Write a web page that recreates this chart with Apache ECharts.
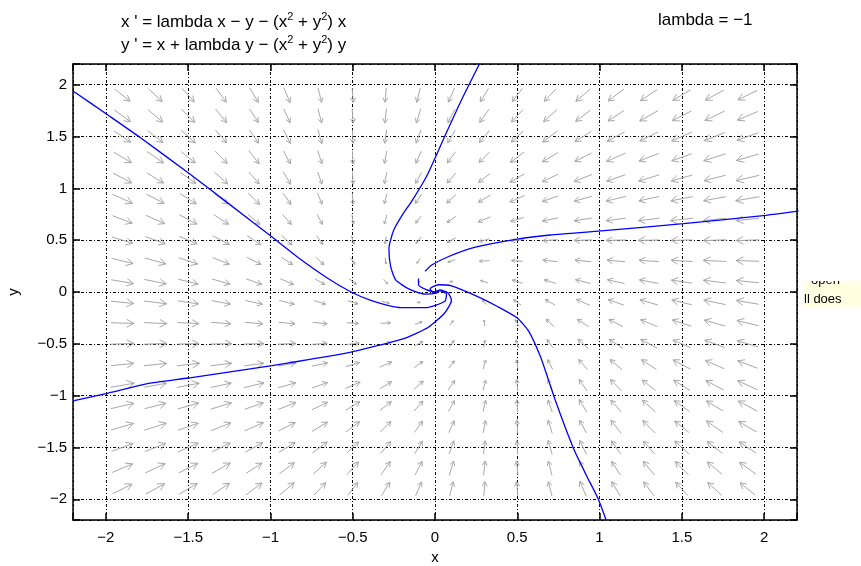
<!DOCTYPE html>
<html>
<head>
<meta charset="utf-8">
<script src="https://cdn.jsdelivr.net/npm/echarts@6/dist/echarts.min.js"></script>
<style>
  html, body { margin: 0; padding: 0; background: #fff; }
  #main { width: 861px; height: 566px; }
</style>
</head>
<body>
<div id="main"></div>
<script>
// axis ticks
var xTicks = [-2, -1.5, -1, -0.5, 0, 0.5, 1, 1.5, 2];
var xTickLabels = ['\u22122', '\u22121.5', '\u22121', '\u22120.5', '0', '0.5', '1', '1.5', '2'];
var yTicks = [-2, -1.5, -1, -0.5, 0, 0.5, 1, 1.5, 2];
var yTickLabels = ['\u22122', '\u22121.5', '\u22121', '\u22120.5', '0', '0.5', '1', '1.5', '2'];

// direction field: arrow centres, angle (deg) and relative length, read row by row (top row first)
var fieldX = [-1.9, -1.7, -1.5, -1.3, -1.1, -0.9, -0.7, -0.5, -0.3, -0.1, 0.1, 0.3, 0.5, 0.7, 0.9, 1.1, 1.3, 1.5, 1.7, 1.9];
var fieldY = [1.9, 1.7, 1.5, 1.3, 1.1, 0.9, 0.7, 0.5, 0.3, 0.1, -0.1, -0.3, -0.5, -0.7, -0.9, -1.1, -1.3, -1.5, -1.7, -1.9];
var arrowAngle = [
  [-52,-56,-60,-65,-70,-75,-81,-87,-93,-99,-105,-111,-116,-121,-126,-130,-133,-137,-139,-142],
  [-49,-53,-58,-63,-68,-74,-81,-87,-94,-101,-108,-114,-120,-125,-130,-134,-138,-141,-143,-146],
  [-47,-51,-55,-61,-66,-73,-80,-88,-95,-103,-111,-118,-124,-130,-135,-139,-142,-145,-148,-150],
  [-43,-48,-52,-58,-64,-71,-79,-88,-97,-106,-115,-123,-130,-136,-141,-145,-148,-151,-153,-155],
  [-40,-44,-49,-55,-61,-69,-78,-88,-98,-109,-119,-129,-137,-143,-148,-151,-154,-156,-158,-160],
  [-36,-40,-45,-51,-58,-66,-76,-87,-99,-113,-125,-136,-145,-151,-156,-159,-161,-163,-164,-165],
  [-31,-35,-40,-46,-53,-61,-72,-84,-99,-116,-132,-146,-155,-162,-166,-168,-169,-170,-171,-171],
  [-26,-30,-34,-40,-47,-55,-65,-79,-96,-117,-140,-158,-169,-174,-177,-178,-178,-178,-177,-177],
  [-21,-24,-28,-33,-39,-46,-56,-68,-85,-114,-151,-175,174,171,171,172,173,175,176,177],
  [-15,-18,-21,-25,-29,-35,-42,-50,-61,-89,-179,156,153,154,158,161,164,167,169,171],
  [-9,-11,-13,-16,-19,-22,-26,-27,-24,1,91,119,130,138,145,151,155,159,162,165],
  [-3,-4,-5,-7,-8,-9,-9,-6,5,29,66,95,112,124,134,141,147,152,156,159],
  [3,3,2,2,2,3,6,11,22,40,63,84,101,115,125,133,140,146,150,154],
  [9,9,10,11,12,14,18,25,34,48,64,81,96,108,119,127,134,140,145,149],
  [15,16,17,19,21,24,29,35,44,55,67,81,93,104,114,122,129,135,140,144],
  [20,22,24,26,29,32,37,43,51,61,71,82,92,102,111,119,125,131,136,140],
  [25,27,29,32,35,39,44,50,57,65,74,83,92,101,109,116,122,128,132,137],
  [30,32,35,38,41,45,50,56,62,69,77,85,92,100,107,114,119,125,129,133],
  [34,37,39,42,46,50,55,60,66,72,79,86,93,99,106,112,117,122,127,131],
  [38,41,43,47,50,54,59,64,69,75,81,87,93,99,105,110,115,120,124,128]
];
var arrowMag = [
  [15,15,15,15,15,15,14,14,14,14,14,14,14,14,15,15,15,15,15,15],
  [15,15,15,15,14,14,14,14,14,14,14,14,14,14,14,14,15,15,15,15],
  [15,15,15,14,14,14,14,13,13,13,13,13,13,14,14,14,14,15,15,15],
  [15,15,14,14,14,13,13,13,12,12,12,12,13,13,13,14,14,14,15,15],
  [15,14,14,14,13,13,12,12,11,11,11,11,12,12,13,13,14,14,14,15],
  [15,14,14,13,13,12,11,11,10,10,10,10,11,11,12,13,13,14,14,15],
  [14,14,14,13,12,11,10,9,9,8,8,9,9,10,11,12,13,14,14,14],
  [14,14,13,13,12,11,9,8,7,7,7,7,8,9,11,12,13,13,14,14],
  [14,14,13,12,11,10,9,7,6,5,5,6,7,9,10,11,12,13,14,14],
  [14,14,13,12,11,10,8,7,5,2,2,5,7,8,10,11,12,13,14,14],
  [14,14,13,12,11,10,8,7,5,2,2,5,7,8,10,11,12,13,14,14],
  [14,14,13,12,11,10,9,7,6,5,5,6,7,9,10,11,12,13,14,14],
  [14,14,13,13,12,11,9,8,7,7,7,7,8,9,11,12,13,13,14,14],
  [14,14,14,13,12,11,10,9,9,8,8,9,9,10,11,12,13,14,14,14],
  [15,14,14,13,13,12,11,11,10,10,10,10,11,11,12,13,13,14,14,15],
  [15,14,14,14,13,13,12,12,11,11,11,11,12,12,13,13,14,14,14,15],
  [15,15,14,14,14,13,13,13,12,12,12,12,13,13,13,14,14,14,15,15],
  [15,15,15,14,14,14,14,13,13,13,13,13,13,14,14,14,14,15,15,15],
  [15,15,15,15,14,14,14,14,14,14,14,14,14,14,14,14,15,15,15,15],
  [15,15,15,15,15,15,14,14,14,14,14,14,14,14,15,15,15,15,15,15]
];

// solution curves (x, y)
var traj1 = [[-2.2,1.94],[-1.99,1.71],[-1.8,1.5],[-1.5,1.15],[-1.26,0.86],[-0.99,0.53],[-0.83,0.33],[-0.65,0.13],[-0.51,0.0],[-0.39,-0.08],[-0.21,-0.15],[-0.05,-0.15],[0.06,-0.09],[0.07,-0.02],[0.03,0.01],[0.0,0.0]];
var traj2 = [[0.27,2.2],[0.16,1.85],[0.05,1.47],[-0.05,1.12],[-0.14,0.88],[-0.2,0.74],[-0.25,0.6],[-0.28,0.42],[-0.27,0.25],[-0.24,0.12],[-0.16,0.03],[-0.06,-0.02],[0.01,-0.01],[0.02,0.01]];
var traj3a = [[2.21,0.78],[2.01,0.74],[1.51,0.66],[1.01,0.59],[0.7,0.55],[0.5,0.51],[0.24,0.43],[0.08,0.34],[-0.02,0.26],[-0.06,0.2]];
var traj3b = [[-0.1,0.13],[-0.1,0.07],[-0.05,0.02],[0.0,0.0]];
var traj4 = [[1.04,-2.2],[0.99,-1.99],[0.92,-1.77],[0.85,-1.54],[0.79,-1.3],[0.73,-1.04],[0.69,-0.85],[0.64,-0.62],[0.57,-0.38],[0.5,-0.25],[0.38,-0.14],[0.24,-0.03],[0.1,0.06],[0.02,0.07],[-0.03,0.03],[-0.01,-0.01]];
var traj5 = [[-2.2,-1.05],[-2.0,-0.98],[-1.73,-0.88],[-1.5,-0.83],[-0.99,-0.71],[-0.51,-0.58],[-0.33,-0.51],[-0.19,-0.45],[-0.04,-0.34],[0.06,-0.2],[0.1,-0.08],[0.08,-0.01],[0.03,0.02],[0.0,0.0]];

var FONT = "'Liberation Sans', Arial, Helvetica, sans-serif";

var arrowData = [];
for (var r = 0; r < fieldY.length; r++) {
  for (var c = 0; c < fieldX.length; c++) {
    arrowData.push([fieldX[c], fieldY[r], arrowAngle[r][c], arrowMag[r][c]]);
  }
}

function tickFormatter(ticks, labels) {
  return function (v) {
    for (var i = 0; i < ticks.length; i++) {
      if (Math.abs(ticks[i] - v) < 1e-6) return labels[i];
    }
    return '';
  };
}

function renderArrow(params, api) {
  var x = api.value(0), y = api.value(1);
  var a = api.value(2) * Math.PI / 180;
  var len = api.value(3) / 100;
  var dx = Math.cos(a) * len / 2, dy = Math.sin(a) * len / 2;
  var p0 = api.coord([x - dx, y - dy]);
  var p1 = api.coord([x + dx, y + dy]);
  var ang = Math.atan2(p1[1] - p0[1], p1[0] - p0[0]);
  var L = Math.sqrt((p1[0] - p0[0]) * (p1[0] - p0[0]) + (p1[1] - p0[1]) * (p1[1] - p0[1]));
  var h = Math.max(2, L * 0.35);
  var b1 = [p1[0] - h * Math.cos(ang - 0.5), p1[1] - h * Math.sin(ang - 0.5)];
  var b2 = [p1[0] - h * Math.cos(ang + 0.5), p1[1] - h * Math.sin(ang + 0.5)];
  var st = { stroke: '#a8a8a8', lineWidth: 1, fill: null };
  return {
    type: 'group',
    children: [
      { type: 'polyline', shape: { points: [p0, p1] }, style: st },
      { type: 'polyline', shape: { points: [b1, p1, b2] }, style: st }
    ]
  };
}

function curve(data) {
  return {
    type: 'line',
    data: data,
    showSymbol: false,
    smooth: 0.2,
    clip: true,
    z: 5,
    lineStyle: { color: '#0000ff', width: 1.3 }
  };
}

var axisCommon = {
  type: 'value',
  min: -2.2,
  max: 2.2,
  minInterval: 0.5,
  maxInterval: 0.5,
  axisLine: { show: true, onZero: false, lineStyle: { color: '#000', width: 1.5 } },
  axisTick: { show: true, inside: true, length: 7, lineStyle: { color: '#000', width: 1.5 } }
};

var titleRich = {
  n: { fontSize: 17, fontFamily: FONT, fill: '#000', lineHeight: 22 },
  s: { fontSize: 11, fontFamily: FONT, fill: '#000', lineHeight: 11, verticalAlign: 'top' }
};

var myChart = echarts.init(document.getElementById('main'));
myChart.setOption({
  animation: false,
  backgroundColor: '#fff',
  grid: { left: 73, right: 64, top: 64, bottom: 46, outerBoundsMode: 'none', containLabel: false },
  xAxis: [
    Object.assign({}, axisCommon, {
      position: 'bottom',
      name: 'x',
      nameLocation: 'middle',
      nameGap: 30,
      nameTextStyle: { color: '#000', fontSize: 15, fontFamily: FONT },
      axisLabel: { formatter: tickFormatter(xTicks, xTickLabels), color: '#000', fontSize: 15, margin: 10, fontFamily: FONT },
      splitLine: { show: true, lineStyle: { color: '#000', width: 1, type: [3, 2, 1, 2] } }
    }),
    Object.assign({}, axisCommon, {
      position: 'top',
      axisLabel: { show: false },
      splitLine: { show: false }
    })
  ],
  yAxis: [
    Object.assign({}, axisCommon, {
      position: 'left',
      name: 'y',
      nameLocation: 'middle',
      nameGap: 52,
      nameTextStyle: { color: '#000', fontSize: 15, fontFamily: FONT },
      axisLabel: { formatter: tickFormatter(yTicks, yTickLabels), color: '#000', fontSize: 15, margin: 6, fontFamily: FONT },
      splitLine: { show: true, lineStyle: { color: '#000', width: 1, type: [3, 2, 1, 2] } }
    }),
    Object.assign({}, axisCommon, {
      position: 'right',
      axisLabel: { show: false },
      splitLine: { show: false }
    })
  ],
  graphic: [
    {
      type: 'text', left: 121, top: 11,
      style: { text: "{n|x ' = lambda x \u2212 y \u2212 (x}{s|2}{n| + y}{s|2}{n|) x}", rich: titleRich }
    },
    {
      type: 'text', left: 121, top: 34,
      style: { text: "{n|y ' = x + lambda y \u2212 (x}{s|2}{n| + y}{s|2}{n|) y}", rich: titleRich }
    },
    {
      type: 'text', left: 658, top: 12,
      style: { text: 'lambda = \u22121', fontSize: 17, fontFamily: FONT, fill: '#000' }
    },
    { type: 'rect', left: 803, top: 281, shape: { width: 58, height: 26 }, style: { fill: '#ffffe1' } },
    { type: 'text', left: 811, top: 274, style: { text: 'open', fontSize: 13, fontFamily: FONT, fill: '#000' } },
    { type: 'text', left: 804, top: 293, style: { text: 'll does', fontSize: 13, fontFamily: FONT, fill: '#000' } },
    { type: 'rect', left: 800, top: 258, z: 200, shape: { width: 61, height: 23 }, style: { fill: '#fff' } }
  ],
  series: [
    {
      type: 'custom',
      renderItem: renderArrow,
      data: arrowData,
      encode: { x: 0, y: 1 },
      clip: true,
      z: 1,
      silent: true
    },
    curve(traj1),
    curve(traj2),
    curve(traj3a),
    curve(traj3b),
    curve(traj4),
    curve(traj5)
  ]
});
</script>
</body>
</html>
